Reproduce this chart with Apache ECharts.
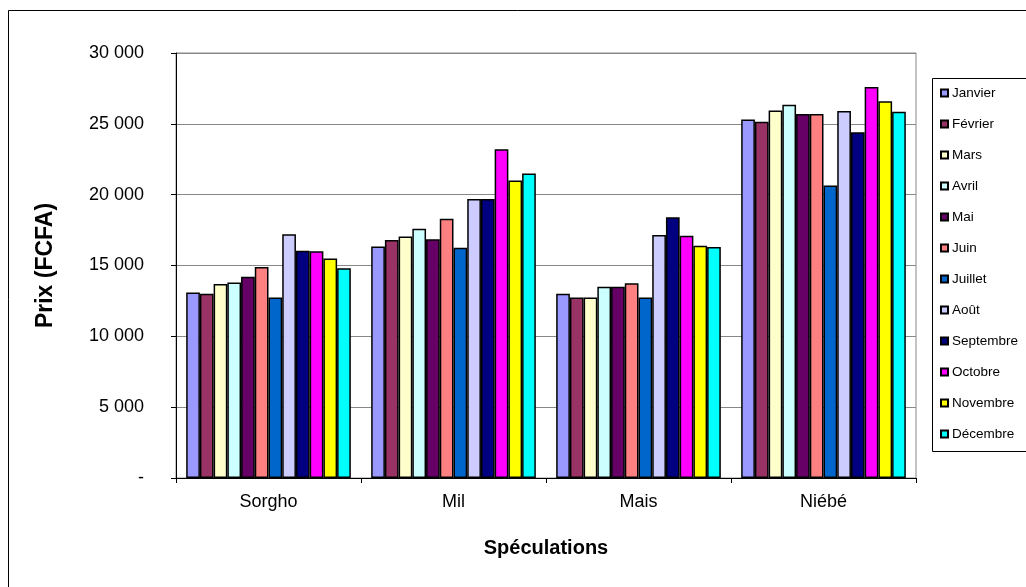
<!DOCTYPE html>
<html>
<head>
<meta charset="utf-8">
<script src="https://cdn.jsdelivr.net/npm/echarts@6/dist/echarts.min.js"></script>
<style>
  html, body { margin: 0; padding: 0; background: #fff; }
  #chart { width: 1026px; height: 587px; }
</style>
</head>
<body>
<div id="chart"></div>
<script>
// Monthly prices (FCFA) for each crop
const categories = ['Sorgho', 'Mil', 'Mais', 'Niébé'];
const months = ['Janvier', 'Février', 'Mars', 'Avril', 'Mai', 'Juin', 'Juillet', 'Août', 'Septembre', 'Octobre', 'Novembre', 'Décembre'];

const janvier   = [13100, 16350, 13000, 25300];
const fevrier   = [13000, 16800, 12750, 25150];
const mars      = [13700, 17050, 12750, 25950];
const avril     = [13800, 17600, 13500, 26350];
const mai       = [14200, 16850, 13500, 25700];
const juin      = [14900, 18300, 13750, 25700];
const juillet   = [12750, 16250, 12750, 20650];
const aout      = [17200, 19700, 17150, 25900];
const septembre = [16050, 19700, 18400, 24400];
const octobre   = [16000, 23200, 17100, 27600];
const novembre  = [15500, 21000, 16400, 26600];
const decembre  = [14800, 21500, 16300, 25850];

const monthValues = [janvier, fevrier, mars, avril, mai, juin, juillet, aout, septembre, octobre, novembre, decembre];
const monthColors = ['#9999FF', '#993366', '#FFFFCC', '#CCFFFF', '#660066', '#FF8080',
                     '#0066CC', '#CCCCFF', '#000080', '#FF00FF', '#FFFF00', '#00FFFF'];

const yTicks = [0, 5000, 10000, 15000, 20000, 25000, 30000];

const FONT = "'Liberation Sans', Arial, sans-serif";

function formatPrice(v) {
  if (v === 0) return '-';
  return String(v).replace(/\B(?=(\d{3})+(?!\d))/g, ' ');
}

const chart = echarts.init(document.getElementById('chart'), null, { renderer: 'canvas' });

chart.setOption({
  backgroundColor: '#ffffff',
  animation: false,
  textStyle: { fontFamily: FONT, color: '#000' },
  graphic: [
    // outer chart frame
    { type: 'rect', z: -10, shape: { x: 8.5, y: 10.5, width: 1100, height: 700 },
      style: { fill: 'none', stroke: '#000', lineWidth: 1 } },
    // legend box
    { type: 'rect', z: 1, shape: { x: 932.5, y: 78.5, width: 200, height: 373 },
      style: { fill: '#fff', stroke: '#000', lineWidth: 1 } }
  ],
  legend: {
    orient: 'vertical',
    left: 940,
    top: 86,
    z: 5,
    itemGap: 17,
    itemWidth: 7,
    itemHeight: 7,
    icon: 'rect',
    padding: 0,
    textStyle: { fontFamily: FONT, fontSize: 13.5, color: '#000', padding: [0, 0, 0, -1] },
    data: months
  },
  grid: {
    left: 176,
    top: 53,
    right: 110,
    bottom: 109,
    show: true,
    borderColor: '#888',
    borderWidth: 1,
    backgroundColor: 'transparent'
  },
  xAxis: {
    type: 'category',
    data: categories,
    name: 'Spéculations',
    nameLocation: 'middle',
    nameGap: 60,
    nameTextStyle: { fontFamily: FONT, fontSize: 20, fontWeight: 'bold', color: '#000' },
    axisLine: { lineStyle: { color: '#000', width: 1 } },
    axisTick: { show: true, length: 5, lineStyle: { color: '#000' } },
    axisLabel: { fontFamily: FONT, fontSize: 18, color: '#000', margin: 15 },
    splitLine: { show: false }
  },
  yAxis: {
    type: 'value',
    min: 0,
    max: 30000,
    interval: 5000,
    name: 'Prix (FCFA)',
    nameLocation: 'middle',
    nameRotate: 90,
    nameGap: 119,
    nameTextStyle: { fontFamily: FONT, fontSize: 23, fontWeight: 'bold', color: '#000' },
    axisLine: { show: true, lineStyle: { color: '#000', width: 1 } },
    axisTick: { show: true, inside: false, length: 5, lineStyle: { color: '#000' } },
    axisLabel: {
      fontFamily: FONT, fontSize: 18, color: '#000', margin: 32,
      formatter: function (v) { return yTicks.indexOf(v) >= 0 ? formatPrice(v) : ''; }
    },
    splitLine: { show: true, lineStyle: { color: '#888', width: 1 } }
  },
  series: months.map(function (m, i) {
    return {
      name: m,
      type: 'bar',
      data: monthValues[i],
      barGap: '0%',
      barCategoryGap: '11%',
      itemStyle: { color: monthColors[i], borderColor: '#000', borderWidth: 1.5 }
    };
  })
});
</script>
</body>
</html>
